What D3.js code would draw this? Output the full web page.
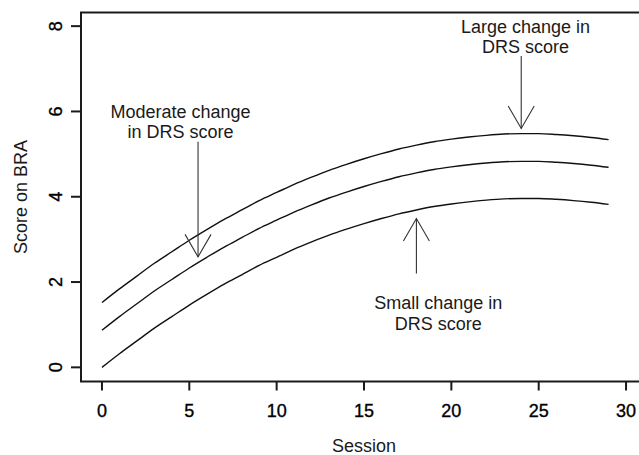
<!DOCTYPE html>
<html>
<head>
<meta charset="utf-8">
<script src="https://cdn.jsdelivr.net/npm/d3@7/dist/d3.min.js"></script>
<style>
  html, body { margin: 0; padding: 0; background: #fff; }
  svg { display: block; }
  text { font-family: "Liberation Sans", Arial, Helvetica, sans-serif; fill: #1a1a1a; }
  .tick-label { fill: #000; stroke: #000; stroke-width: 0.35px; }
</style>
</head>
<body>
<svg id="chart" width="639" height="455"></svg>
<script>
// ---- data ----
const sessions = d3.range(0, 30); // 0..29
const smallChange = [0.00,0.32,0.62,0.92,1.19,1.46,1.71,1.95,2.17,2.39,2.58,2.77,2.94,3.10,3.24,3.37,3.49,3.60,3.69,3.77,3.83,3.88,3.92,3.95,3.96,3.96,3.94,3.91,3.87,3.82];
const moderateChange = [0.87,1.19,1.49,1.79,2.06,2.33,2.58,2.82,3.04,3.26,3.45,3.64,3.81,3.97,4.11,4.24,4.36,4.47,4.56,4.64,4.70,4.75,4.79,4.82,4.83,4.83,4.81,4.78,4.74,4.69];
const largeChange = [1.52,1.84,2.14,2.44,2.71,2.98,3.23,3.47,3.69,3.91,4.10,4.29,4.46,4.62,4.76,4.89,5.01,5.12,5.21,5.29,5.35,5.40,5.44,5.47,5.48,5.48,5.46,5.43,5.39,5.34];
const xTicks = [0, 5, 10, 15, 20, 25, 30];
const yTicks = [0, 2, 4, 6, 8];
const xTitle = "Session";
const yTitle = "Score on BRA";
// annotations: label lines, label centre (data units), arrow from -> to (data units)
const annLabels = [["Moderate change", "in DRS score"], ["Large change in", "DRS score"], ["Small change in", "DRS score"]];
const annTextX = [4.5, 24.25, 19.25];
const annTextY = [5.76, 7.75, 1.27];
const annArrowX = [5.5, 24, 18];
const annArrowFrom = [5.29, 7.30, 2.20];
const annArrowTo = [2.59, 5.60, 3.49];

// ---- layout ----
const svg = d3.select("#chart");
const pL = 81, pR = 647, pT = 12.5, pB = 381.5;
const x = d3.scaleLinear().domain([-1.2, 31.2]).range([pL, pR]);
const y = d3.scaleLinear().domain([-0.32, 8.32]).range([pB - 0.5, pT]);
const FS = 18;

// box
svg.append("rect")
  .attr("x", pL).attr("y", pT)
  .attr("width", pR - pL).attr("height", pB - pT)
  .attr("fill", "none").attr("stroke", "#1a1a1a").attr("stroke-width", 2);

// x axis
const xAxis = svg.append("g");
xAxis.selectAll("line").data(xTicks).join("line")
  .attr("x1", d => x(d)).attr("x2", d => x(d))
  .attr("y1", pB).attr("y2", pB + 9)
  .attr("stroke", "#1a1a1a").attr("stroke-width", 2);
xAxis.selectAll("text").data(xTicks).join("text")
  .attr("class", "tick-label")
  .attr("x", d => x(d)).attr("y", 417)
  .attr("text-anchor", "middle").attr("font-size", FS)
  .text(d => d);

// y axis
const yAxis = svg.append("g");
yAxis.selectAll("line").data(yTicks).join("line")
  .attr("x1", pL - 10).attr("x2", pL)
  .attr("y1", d => y(d)).attr("y2", d => y(d))
  .attr("stroke", "#1a1a1a").attr("stroke-width", 2);
yAxis.selectAll("text").data(yTicks).join("text")
  .attr("class", "tick-label")
  .attr("transform", d => `translate(62,${y(d)}) rotate(-90)`)
  .attr("text-anchor", "middle").attr("font-size", FS)
  .text(d => d);

// titles
svg.append("text")
  .attr("x", (pL + pR) / 2).attr("y", 452)
  .attr("text-anchor", "middle").attr("font-size", FS)
  .text(xTitle);
svg.append("text")
  .attr("transform", `translate(27,${(pT + pB) / 2}) rotate(-90)`)
  .attr("text-anchor", "middle").attr("font-size", FS)
  .text(yTitle);

// curves
const line = d3.line()
  .x((d, i) => x(sessions[i]))
  .y(d => y(d))
  .curve(d3.curveMonotoneX);
[smallChange, moderateChange, largeChange].forEach(series => {
  svg.append("path")
    .attr("d", line(series))
    .attr("fill", "none").attr("stroke", "#111").attr("stroke-width", 1.4);
});

// annotations
annLabels.forEach((lines, i) => {
  const cx = x(annTextX[i]);
  const cy = y(annTextY[i]);
  const lh = 20.5;
  lines.forEach((t, j) => {
    svg.append("text")
      .attr("x", cx)
      .attr("y", cy + (j - (lines.length - 1) / 2) * lh)
      .attr("dy", "0.35em")
      .attr("text-anchor", "middle").attr("font-size", FS)
      .text(t);
  });
  const ax = x(annArrowX[i]);
  const y0 = y(annArrowFrom[i]);
  const y1 = y(annArrowTo[i]);
  svg.append("line")
    .attr("x1", ax).attr("x2", ax).attr("y1", y0).attr("y2", y1)
    .attr("stroke", "#333").attr("stroke-width", 1.1);
  const dir = y1 > y0 ? -1 : 1; // arms go back toward start
  const len = 26, ang = Math.PI / 6;
  const dx = len * Math.sin(ang), dy = len * Math.cos(ang) * dir;
  svg.append("path")
    .attr("d", `M${ax - dx},${y1 + dy}L${ax},${y1}L${ax + dx},${y1 + dy}`)
    .attr("fill", "none").attr("stroke", "#333").attr("stroke-width", 1.1);
});
</script>
</body>
</html>
